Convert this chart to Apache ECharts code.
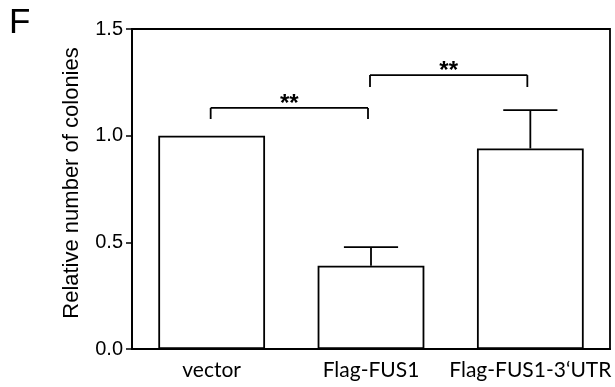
<!DOCTYPE html>
<html>
<head>
<meta charset="utf-8">
<script src="https://cdn.jsdelivr.net/npm/echarts@6/dist/echarts.min.js"></script>
<style>
  html, body { margin: 0; padding: 0; background: #fff; }
  #chart { width: 615px; height: 387px; }
</style>
</head>
<body>
<div id="chart"></div>
<script>
const categories = ['vector', 'Flag-FUS1', 'Flag-FUS1-3\u2018UTR']
const means = [1.0, 0.39, 0.94]
const errTops = [null, 0.478, 1.12]
// significance brackets: [fromIndex, toIndex, barY, legY, label]
const brackets = [
  [0, 1, 1.13, 1.078, '**'],
  [1, 2, 1.284, 1.228, '**'],
]
const yTicks = [0, 0.5, 1.0, 1.5]

const chart = echarts.init(document.getElementById('chart'), null, { renderer: 'canvas' })

const lineStyle = { stroke: '#000', lineWidth: 1.8 }

chart.setOption({
  animation: false,
  backgroundColor: '#fff',
  graphic: [
    { type: 'text', left: 9, top: 6, style: { text: 'F', fontSize: 35, fontFamily: 'Liberation Sans, Arial', fill: '#000' } },
  ],
  grid: { left: 132, right: 5, top: 29, bottom: 38, show: true, borderColor: '#000', borderWidth: 1.8, backgroundColor: 'transparent' },
  xAxis: {
    type: 'category',
    data: categories,
    axisLine: { lineStyle: { color: '#000', width: 1.8 } },
    axisTick: { alignWithLabel: true, length: 5, lineStyle: { color: '#000', width: 1.5 } },
    axisLabel: { interval: 0, color: '#000', fontSize: 21, fontFamily: 'Lato, Open Sans, sans-serif', margin: 11 },
  },
  yAxis: {
    type: 'value',
    min: 0, max: 1.5, interval: 0.5,
    name: 'Relative number of colonies',
    nameLocation: 'middle',
    nameGap: 49,
    nameTextStyle: { color: '#000', fontSize: 22, fontFamily: 'Liberation Sans, Arial', padding: [0, 0, 0, 12] },
    splitLine: { show: false },
    axisLine: { show: true, lineStyle: { color: '#000', width: 1.8 } },
    axisTick: { show: true, length: 6, lineStyle: { color: '#000', width: 1.5 } },
    axisLabel: {
      color: '#000', fontSize: 20, fontFamily: 'Liberation Sans, Arial', margin: 9,
      formatter: v => yTicks.includes(v) ? v.toFixed(1) : '',
    },
  },
  series: [
    {
      type: 'bar',
      data: means,
      barWidth: '67%',
      itemStyle: { color: '#fff', borderColor: '#000', borderWidth: 1.8 },
      z: 2,
    },
    {
      type: 'custom',
      z: 3,
      data: errTops.map((e, i) => [i, means[i], e]),
      renderItem: (params, api) => {
        const i = api.value(0)
        const e = errTops[i]
        if (e == null) return null
        const base = api.coord([i, api.value(1)])
        const top = api.coord([i, e])
        const half = api.size([1, 0])[0] * 0.17
        return {
          type: 'group',
          children: [
            { type: 'line', shape: { x1: base[0], y1: base[1], x2: top[0], y2: top[1] }, style: lineStyle },
            { type: 'line', shape: { x1: top[0] - half, y1: top[1], x2: top[0] + half, y2: top[1] }, style: lineStyle },
          ],
        }
      },
    },
    {
      type: 'custom',
      z: 3,
      data: brackets.map(b => [b[0], b[1], b[2], b[3]]),
      renderItem: (params, api) => {
        const b = brackets[params.dataIndex]
        const a1 = api.coord([b[0], b[2]])
        const a2 = api.coord([b[1], b[2]])
        const legY = api.coord([b[0], b[3]])[1]
        const x1 = a1[0] - 1
        const x2 = a2[0] - 3
        return {
          type: 'group',
          children: [
            { type: 'line', shape: { x1: x1, y1: a1[1], x2: x2, y2: a1[1] }, style: lineStyle },
            { type: 'line', shape: { x1: x1, y1: a1[1], x2: x1, y2: legY }, style: lineStyle },
            { type: 'line', shape: { x1: x2, y1: a1[1], x2: x2, y2: legY }, style: lineStyle },
            {
              type: 'text',
              style: {
                text: b[4], x: (x1 + x2) / 2, y: a1[1] - 4,
                align: 'center', verticalAlign: 'middle',
                fontSize: 24, fontWeight: 'bold', fontFamily: 'Liberation Sans, Arial', fill: '#000',
              },
            },
          ],
        }
      },
    },
  ],
})
</script>
</body>
</html>
